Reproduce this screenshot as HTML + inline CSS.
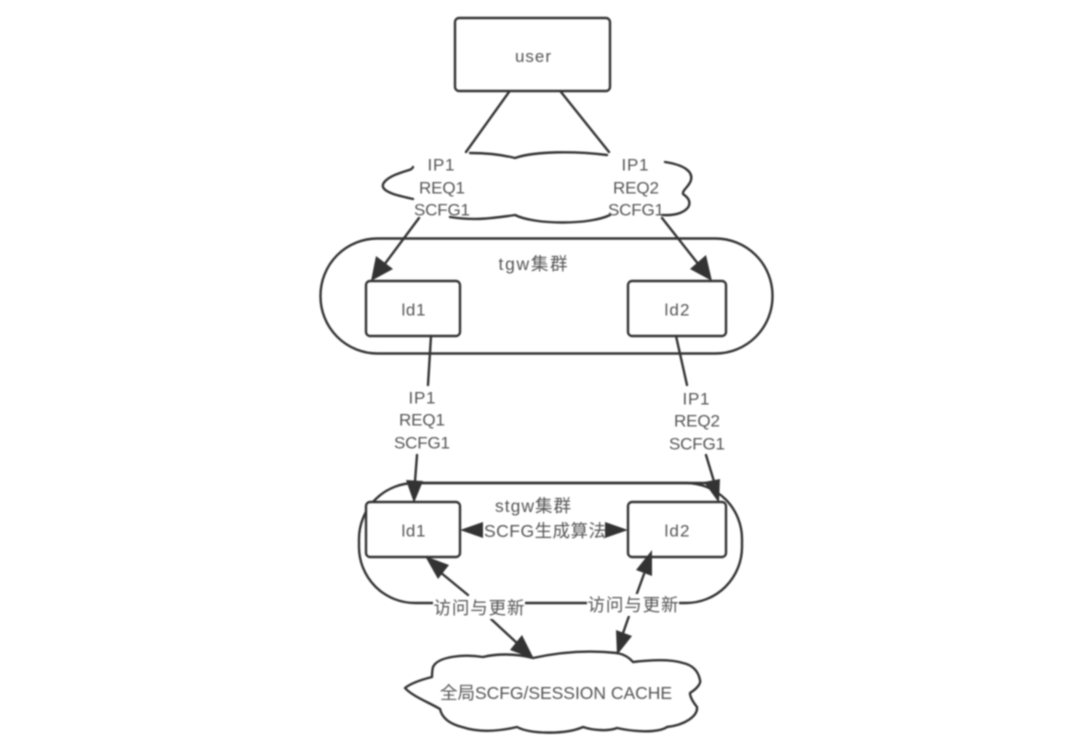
<!DOCTYPE html>
<html>
<head>
<meta charset="utf-8">
<style>
html,body{margin:0;padding:0;background:#fff;width:1080px;height:741px;overflow:hidden}
svg{display:block;filter:blur(0.7px)}
text{font-family:"Liberation Sans","Noto Sans CJK SC",sans-serif;font-size:17px;fill:#555;text-anchor:middle;dominant-baseline:central}
.c{font-size:17.5px}
.s{fill:none;stroke:#333;stroke-width:2.4;stroke-linecap:round;stroke-linejoin:round}
.b{fill:#fff;stroke:#333;stroke-width:2.4}
.a{fill:#333;stroke:none}
</style>
</head>
<body>
<svg width="1080" height="741" viewBox="0 0 1080 741" xmlns="http://www.w3.org/2000/svg">
<!-- user -->
<rect class="b" x="455" y="18" width="155" height="73" rx="4"/>
<text x="533" y="56.500" textLength="36">user</text>
<path class="s" d="M509 92L466 152M561 92L609 152"/>
<!-- top cloud -->
<path class="s" d="M470 153C490 153 503 155 515 158C535 151 575 151 607 155"/>
<path class="s" d="M413 167C412 170 408 170 400 173C385 178 382 184 383 187C385 193 400 196 413 199"/>
<path class="s" d="M450 217C475 221 495 218 515 215C535 225 590 225 610 215"/>
<path class="s" d="M665 162C685 165 693 172 691 180C689 187 682 190 683 194C692 200 692 208 680 213C672 216 665 215 662 215"/>
<!-- tgw -->
<rect class="s" x="320.500" y="238.500" width="452" height="115" rx="57" ry="57"/>
<text class="c" x="533" y="264" textLength="69">tgw集群</text>
<rect class="b" x="366" y="281" width="94" height="55" rx="4"/>
<rect class="b" x="628" y="281" width="98" height="55" rx="4"/>
<text x="413.500" y="310" textLength="24">ld1</text>
<text x="677" y="310" textLength="25">ld2</text>
<!-- cloud to tgw arrows -->
<path class="s" d="M419 218L384 265"/>
<polygon class="a" points="371,281 376,256 393,269"/>
<path class="s" d="M662 218L699 265"/>
<polygon class="a" points="712,281 690,269 706,255"/>
<!-- stgw -->
<rect class="s" x="359" y="483" width="383" height="120" rx="56" ry="56"/>
<path class="s" d="M410 483H715" stroke-width="3"/>
<!-- tgw to stgw lines -->
<path class="s" d="M431 336L428 385M417 455L414.500 488"/>
<polygon class="a" points="414,503 406,480 423,481"/>
<path class="s" d="M676 336L687 385M706 455L716 488"/>
<polygon class="a" points="719,503 704,482 720,479"/>
<text x="422" y="398" textLength="27">IP1</text>
<text x="422" y="420" textLength="46">REQ1</text>
<text x="422" y="443" textLength="56">SCFG1</text>
<text x="696" y="399" textLength="27">IP1</text>
<text x="697" y="421" textLength="46">REQ2</text>
<text x="697" y="444" textLength="56">SCFG1</text>
<!-- stgw boxes -->
<rect class="b" x="366" y="502" width="94" height="55" rx="4"/>
<rect class="b" x="628" y="502" width="98" height="55" rx="4"/>
<text x="413.500" y="531" textLength="24">ld1</text>
<text x="677" y="531" textLength="25">ld2</text>
<text class="c" x="533" y="506" textLength="76">stgw集群</text>
<rect x="483" y="518" width="122" height="24" fill="#fff"/>
<polygon class="a" points="460,530 483,522 483,538"/>
<polygon class="a" points="628,530 605,522 605,538"/>
<text class="c" x="545" y="531" textLength="122">SCFG生成算法</text>
<!-- access lines -->
<path class="s" d="M440 572L468 595M491 619L518 644"/>
<polygon class="a" points="425,556 449,565 438,579"/>
<polygon class="a" points="534,659 510,650 522,635"/>
<path class="s" d="M644 574L636 596M629 616L622 636"/>
<polygon class="a" points="652,550 652,576 636,570"/>
<polygon class="a" points="617,655 616,630 632,636"/>
<rect x="433" y="597" width="92" height="22" fill="#fff"/>
<rect x="587" y="594" width="92" height="22" fill="#fff"/>
<text class="c" x="479" y="608" textLength="91">访问与更新</text>
<text class="c" x="633" y="605" textLength="91">访问与更新</text>
<!-- bottom cloud -->
<path class="s" d="M533 658C515 653 495 654 483 657C465 654 438 656 433 667C432 671 432 675 432 677C420 680 410 684 405 688C412 696 430 703 440 709C442 718 450 724 462 727C480 733 500 731 517 727C530 734 565 735 583 727C595 731 610 731 617 728C640 733 660 732 667 727C685 725 698 716 697 707C693 702 690 697 690 693C698 688 701 683 700 680C698 670 692 665 683 663C670 659 650 660 633 662C628 656 622 654 617 653C590 650 560 652 533 658Z"/>
<text class="c" x="556" y="693" textLength="232">全局SCFG/SESSION CACHE</text>
<!-- top labels -->
<text x="441" y="165" textLength="27">IP1</text>
<text x="442" y="188" textLength="46">REQ1</text>
<text x="442" y="210" textLength="56">SCFG1</text>
<text x="635" y="165" textLength="27">IP1</text>
<text x="636" y="188" textLength="46">REQ2</text>
<text x="636" y="210" textLength="56">SCFG1</text>
</svg>
</body>
</html>
